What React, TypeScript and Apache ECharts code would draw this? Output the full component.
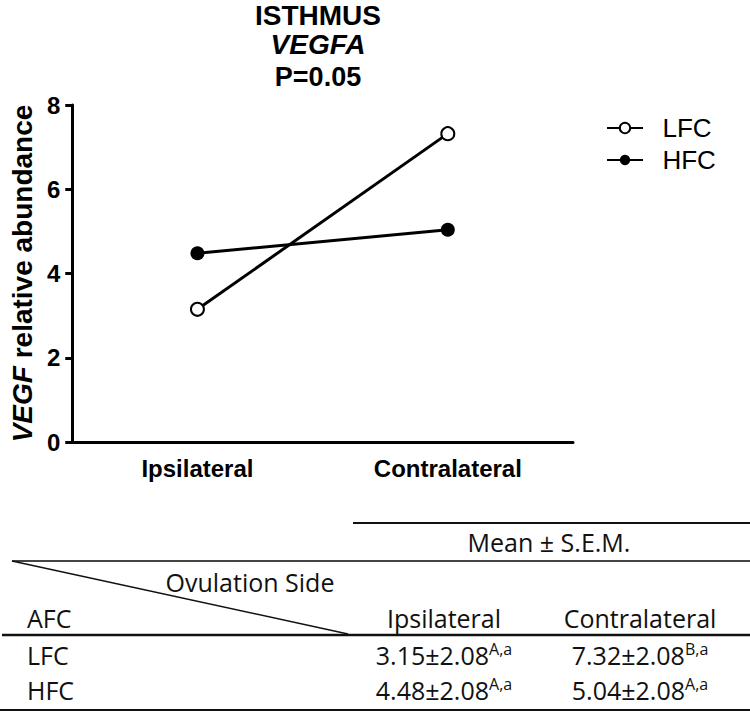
import React, { useEffect, useRef } from "react";
import * as echarts from "echarts";

// ---- data ----
const categories = ["Ipsilateral", "Contralateral"];
const seriesNames = ["LFC", "HFC"];
const lfcMean = [3.15, 7.32];
const hfcMean = [4.48, 5.04];
const lfcSem = [2.08, 2.08];
const hfcSem = [2.08, 2.08];
const lfcLetters = ["A,a", "B,a"];
const hfcLetters = ["A,a", "A,a"];
const yMin = 0;
const yMax = 8;
const yInterval = 2;
const titleLines = ["ISTHMUS", "VEGFA", "P=0.05"];
const tableHeader = "Mean ± S.E.M.";
const tableColHeader = "Ovulation Side";
const tableRowHeader = "AFC";

const AXIS_FONT = "'Liberation Sans', Arial, sans-serif";
const TABLE_FONT = "'Open Sans', sans-serif";

export default function App() {
  const ref = useRef<HTMLDivElement>(null);

  useEffect(() => {
    document.body.style.margin = "0";
    if (!ref.current) return;
    const chart = echarts.init(ref.current, null, { renderer: "svg" });

    const colX = [444, 640];
    const rowsMean = [lfcMean, hfcMean];
    const rowsSem = [lfcSem, hfcSem];
    const rowsLetters = [lfcLetters, hfcLetters];
    const rowY = [655, 690];

    const tableText = (text: string, x: number, y: number, align: string) => ({
      type: "text",
      x,
      y,
      style: {
        text,
        fill: "#111",
        font: `25px ${TABLE_FONT}`,
        align,
        verticalAlign: "middle",
      },
    });

    const titleText = (text: string, y: number, size: number, italic = false) => ({
      type: "text",
      x: 318,
      y,
      style: {
        text,
        fill: "#000",
        font: `${italic ? "italic " : ""}bold ${size}px ${AXIS_FONT}`,
        align: "center",
        verticalAlign: "middle",
      },
    });

    const lineEl = (x1: number, y1: number, x2: number, y2: number, w: number, c = "#111") => ({
      type: "line",
      shape: { x1, y1, x2, y2 },
      style: { stroke: c, lineWidth: w },
    });

    const valueCells: any[] = [];
    rowsMean.forEach((means, r) => {
      valueCells.push(tableText(seriesNames[r], 27, rowY[r], "left"));
      means.forEach((m, c) => {
        valueCells.push({
          type: "text",
          x: colX[c],
          y: rowY[r],
          style: {
            text: `{v|${m.toFixed(2)}±${rowsSem[r][c].toFixed(2)}}{s|${rowsLetters[r][c]}}`,
            align: "center",
            verticalAlign: "middle",
            fill: "#111",
            rich: {
              v: { fontSize: 25, fontFamily: TABLE_FONT, fill: "#111", lineHeight: 28 },
              s: { fontSize: 16, fontFamily: TABLE_FONT, fill: "#111", verticalAlign: "top", lineHeight: 16 },
            },
          },
        });
      });
    });

    const option: any = {
      animation: false,
      backgroundColor: "#fff",
      legend: {
        orient: "vertical",
        left: 606,
        top: 115,
        padding: 0,
        itemWidth: 36,
        itemHeight: 13,
        itemGap: 6,
        data: seriesNames,
        formatter: (n: string) => "  " + n,
        textStyle: { fontFamily: AXIS_FONT, fontSize: 26, color: "#000" },
      },
      grid: { left: 67, top: 105, width: 506, height: 337, containLabel: false },
      xAxis: {
        type: "category",
        data: categories,
        boundaryGap: true,
        axisLine: { lineStyle: { color: "#000", width: 3 } },
        axisTick: { alignWithLabel: true, length: 7, lineStyle: { color: "#000", width: 3 } },
        axisLabel: {
          fontFamily: AXIS_FONT,
          fontSize: 24,
          fontWeight: "bold",
          color: "#000",
          margin: 14,
        },
        splitLine: { show: false },
      },
      yAxis: {
        type: "value",
        min: yMin,
        max: yMax,
        interval: yInterval,
        name: "{i|VEGF} relative abundance",
        nameLocation: "middle",
        nameGap: 35,
        nameTextStyle: {
          fontFamily: AXIS_FONT,
          fontSize: 28,
          fontWeight: "bold",
          color: "#000",
          rich: {
            i: { fontFamily: AXIS_FONT, fontSize: 28, fontWeight: "bold", fontStyle: "italic", color: "#000" },
          },
        },
        axisLine: { show: true, lineStyle: { color: "#000", width: 3 } },
        axisTick: { show: true, length: 7, lineStyle: { color: "#000", width: 3 } },
        axisLabel: {
          fontFamily: AXIS_FONT,
          fontSize: 24,
          fontWeight: "bold",
          color: "#000",
          margin: 12,
        },
        splitLine: { show: false },
      },
      series: [
        {
          name: seriesNames[0],
          type: "line",
          data: lfcMean,
          symbol: "emptyCircle",
          symbolSize: 13,
          lineStyle: { color: "#000", width: 3 },
          itemStyle: { color: "#000", borderWidth: 1.5 },
          z: 3,
        },
        {
          name: seriesNames[1],
          type: "line",
          data: hfcMean,
          symbol: "circle",
          symbolSize: 14,
          lineStyle: { color: "#000", width: 3 },
          itemStyle: { color: "#000" },
          z: 2,
        },
      ],
      graphic: [
        titleText(titleLines[0], 15, 28),
        titleText(titleLines[1], 44, 28, true),
        titleText(titleLines[2], 77, 27),
        lineEl(353, 523, 750, 523, 2),
        tableText(tableHeader, 549, 542, "center"),
        lineEl(12, 561, 750, 561, 2, "#444"),
        lineEl(12, 561, 348, 634, 1.5),
        tableText(tableColHeader, 250, 582, "center"),
        tableText(tableRowHeader, 27, 618, "left"),
        tableText(categories[0], colX[0], 618, "center"),
        tableText(categories[1], colX[1], 618, "center"),
        lineEl(2, 635, 750, 635, 2.5),
        ...valueCells,
        lineEl(0, 710, 750, 710, 2),
      ],
    };

    chart.setOption(option);
    return () => chart.dispose();
  }, []);

  return <div ref={ref} style={{ width: 750, height: 713 }} />;
}
